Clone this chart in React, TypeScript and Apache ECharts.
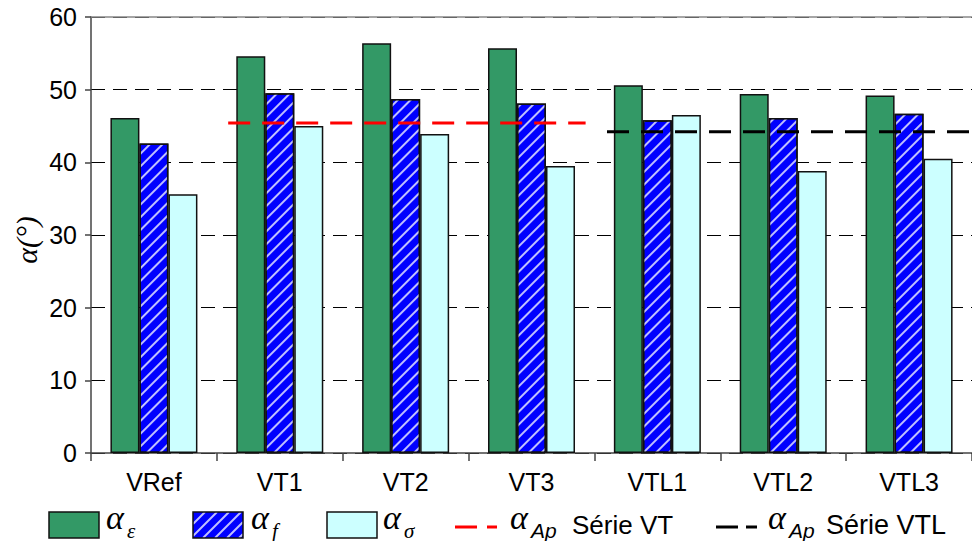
import React, { useEffect, useRef } from "react";
import * as echarts from "echarts";

const categories = ["VRef", "VT1", "VT2", "VT3", "VTL1", "VTL2", "VTL3"];
const alphaEps = [46.1, 54.6, 56.4, 55.7, 50.6, 49.4, 49.2];
const alphaF = [42.6, 49.5, 48.7, 48.1, 45.8, 46.1, 46.7];
const alphaSigma = [35.6, 45.0, 43.9, 39.5, 46.5, 38.8, 40.5];
const yMin = 0;
const yMax = 60;
const yStep = 10;
// alpha_Ap reference lines: value and span along the category axis (in category units)
const apVTValue = 45.4;
const apVTSpan = [1.09, 3.93];
const apVTLValue = 44.2;
const apVTLSpan = [4.1, 7.0];

const SANS = "'Liberation Sans', Arial, sans-serif";
const SERIF = "'Liberation Serif', 'Times New Roman', serif";

function legendAlpha(x: number, sub: string, subDx: number) {
  return [
    {
      type: "text",
      x,
      y: 534,
      style: {
        text: "α",
        fontFamily: SERIF,
        fontStyle: "italic",
        fontSize: 34,
        fill: "#000",
        verticalAlign: "bottom",
        align: "left",
      },
    },
    {
      type: "text",
      x: x + subDx,
      y: 541,
      style: {
        text: sub,
        fontFamily: sub === "Ap" ? SANS : SERIF,
        fontStyle: "italic",
        fontSize: 21,
        fill: "#000",
        verticalAlign: "bottom",
        align: "left",
      },
    },
  ];
}

// diagonal "/" stripes inside a legend swatch
function swatchStripes(x0: number, y0: number, w: number, h: number, step: number) {
  const out: any[] = [];
  for (let c = x0 - h; c < x0 + w; c += step) {
    const t0 = Math.max(0, x0 - c);
    const t1 = Math.min(h, x0 + w - c);
    if (t1 <= t0) continue;
    out.push({
      type: "line",
      shape: { x1: c + t0, y1: y0 + h - t0, x2: c + t1, y2: y0 + h - t1 },
      style: { stroke: "rgba(225,225,255,0.85)", lineWidth: 2 },
      z: 2,
    });
  }
  return out;
}

export default function App() {
  const ref = useRef<HTMLDivElement>(null);
  useEffect(() => {
    if (!ref.current) return;
    const chart = echarts.init(ref.current, null, { renderer: "svg" });
    const border = { borderColor: "#111", borderWidth: 1.5 };
    const option: any = {
      animation: false,
      backgroundColor: "#fff",
      grid: { left: 91, top: 17, width: 882, height: 436, containLabel: false },
      xAxis: [
        {
          type: "category",
          data: categories,
          boundaryGap: true,
          axisLine: { lineStyle: { color: "#444", width: 1.5 } },
          axisTick: { show: true, alignWithLabel: false, length: 8, lineStyle: { color: "#444", width: 1.5 } },
          axisLabel: { color: "#000", fontFamily: SANS, fontSize: 25, margin: 16 },
          splitLine: { show: false },
        },
        {
          type: "value",
          min: 0,
          max: categories.length,
          position: "top",
          show: true,
          axisLine: { show: true, onZero: false, lineStyle: { color: "#888", width: 1.5 } },
          axisTick: { show: false },
          axisLabel: { show: false },
          splitLine: { show: false },
        },
      ],
      yAxis: {
        type: "value",
        min: yMin,
        max: yMax,
        interval: yStep,
        axisLine: { show: true, lineStyle: { color: "#444", width: 1.5 } },
        axisTick: { show: true, length: 6, lineStyle: { color: "#444", width: 1.5 } },
        axisLabel: { color: "#000", fontFamily: SANS, fontSize: 25, margin: 14 },
        splitLine: { show: true, lineStyle: { color: "#000", width: 1, type: [14, 8] } },
      },
      series: [
        {
          name: "αε",
          type: "bar",
          data: alphaEps,
          barWidth: 29,
          barGap: "0%",
          itemStyle: { color: "#339966", ...border },
        },
        {
          name: "αf",
          type: "bar",
          data: alphaF,
          barWidth: 29,
          barGap: "0%",
          itemStyle: {
            color: "#0000FF",
            ...border,
            decal: {
              symbol: "rect",
              symbolSize: 1,
              color: "rgba(225,225,255,0.85)",
              dashArrayX: [1, 0],
              dashArrayY: [2, 7],
              rotation: -Math.PI / 4,
            },
          },
        },
        {
          name: "ασ",
          type: "bar",
          data: alphaSigma,
          barWidth: 29,
          barGap: "0%",
          itemStyle: { color: "#CCFFFF", ...border },
        },
        {
          name: "αAp Série VT",
          type: "line",
          xAxisIndex: 1,
          data: [
            [apVTSpan[0], apVTValue],
            [apVTSpan[1], apVTValue],
          ],
          symbol: "none",
          lineStyle: { color: "#FF0000", width: 3, type: [22, 12] },
          z: 5,
        },
        {
          name: "αAp Série VTL",
          type: "line",
          xAxisIndex: 1,
          data: [
            [apVTLSpan[0], apVTLValue],
            [apVTLSpan[1], apVTLValue],
          ],
          symbol: "none",
          lineStyle: { color: "#000000", width: 3, type: [22, 12] },
          z: 5,
        },
      ],
      graphic: [
        {
          type: "text",
          x: 26,
          y: 240,
          rotation: Math.PI / 2,
          style: {
            text: "α(°)",
            fontFamily: SERIF,
            fontStyle: "italic",
            fontSize: 30,
            fill: "#000",
            align: "center",
            verticalAlign: "middle",
          },
        },
        { type: "rect", shape: { x: 49, y: 512, width: 50, height: 26 }, style: { fill: "#339966", stroke: "#111", lineWidth: 1.5 } },
        ...legendAlpha(106, "ε", 21),
        { type: "rect", shape: { x: 193, y: 512, width: 50, height: 26 }, style: { fill: "#0000FF", stroke: "none" }, z: 1 },
        ...swatchStripes(193, 512, 50, 26, 12),
        { type: "rect", shape: { x: 193, y: 512, width: 50, height: 26 }, style: { fill: "none", stroke: "#111", lineWidth: 1.5 }, z: 3 },
        ...legendAlpha(251, "f", 21),
        { type: "rect", shape: { x: 327, y: 512, width: 50, height: 26 }, style: { fill: "#CCFFFF", stroke: "#111", lineWidth: 1.5 } },
        ...legendAlpha(383, "σ", 21),
        { type: "line", shape: { x1: 455, y1: 527, x2: 497, y2: 527 }, style: { stroke: "#FF0000", lineWidth: 3, lineDash: [22, 10] } },
        ...legendAlpha(510, "Ap", 21),
        { type: "text", x: 572, y: 525, style: { text: "Série VT", fontFamily: SANS, fontSize: 26, fill: "#000", verticalAlign: "middle" } },
        { type: "line", shape: { x1: 716, y1: 527, x2: 757, y2: 527 }, style: { stroke: "#000", lineWidth: 3, lineDash: [22, 8] } },
        ...legendAlpha(768, "Ap", 21),
        { type: "text", x: 826, y: 525, style: { text: "Série VTL", fontFamily: SANS, fontSize: 27, fill: "#000", verticalAlign: "middle" } },
      ],
    };
    chart.setOption(option);
    return () => chart.dispose();
  }, []);
  return <div ref={ref} style={{ width: 972, height: 541, position: "absolute", left: 0, top: 0 }} />;
}
